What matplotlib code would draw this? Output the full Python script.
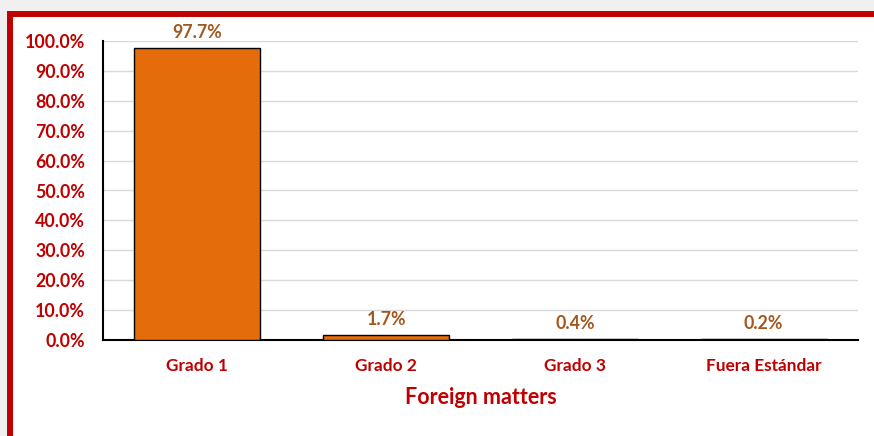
import matplotlib.pyplot as plt
from matplotlib.patches import Rectangle
from matplotlib.ticker import FuncFormatter

# Data.
categories = ['Grado 1', 'Grado 2', 'Grado 3', 'Fuera Estándar']
shares = [97.7, 1.7, 0.4, 0.2]  # percent
labels = ['97.7%', '1.7%', '0.4%', '0.2%']

red = '#c00000'
brown = '#a2581e'
orange = '#e46c0a'

plt.rcParams['font.family'] = ['Lato', 'DejaVu Sans']
plt.rcParams['font.weight'] = 'bold'

W, H = 874, 436
fig = plt.figure(figsize=(W / 100, H / 100), dpi=100, facecolor='#f0f0f0')

# White chart area with the red frame (clipped on right and bottom).
frame = Rectangle((10 / W, -0.2), 1.2, 1 - 14 / H + 0.2,
                  transform=fig.transFigure, facecolor='white',
                  edgecolor=red, linewidth=4.3, zorder=-5)
fig.patches.append(frame)

ax = fig.add_axes([103 / W, 1 - 340 / H, (858 - 103) / W, (340 - 41) / H])
ax.set_facecolor('none')

x = range(len(categories))
vals = [v / 100 for v in shares]
ax.bar(x, vals, width=0.667, color=orange, edgecolor='black',
       linewidth=1.0, zorder=3)

for xi, v, lab in zip(x, vals, labels):
    ax.annotate(lab, (xi, v), xytext=(0, 5), textcoords='offset points',
                ha='center', va='bottom', color=brown, fontsize=12.8,
                fontweight='bold')

ax.set_xlim(-0.5, len(categories) - 0.5)
ax.set_ylim(0, 1.0)
ax.set_yticks([i / 10 for i in range(11)])
ax.yaxis.set_major_formatter(FuncFormatter(lambda v, p: '%.1f%%' % (v * 100)))
ax.set_xticks(list(x))
ax.set_xticklabels(categories)

ax.tick_params(axis='y', length=0, pad=13, labelsize=12.8, labelcolor=red)
ax.tick_params(axis='x', length=0, pad=13, labelsize=12.4, labelcolor=red)

ax.grid(axis='y', color='#d9d9d9', linewidth=1.0, zorder=0)
ax.set_axisbelow(True)
for s in ['top', 'right']:
    ax.spines[s].set_visible(False)
ax.spines['left'].set_linewidth(1.5)
ax.spines['bottom'].set_linewidth(1.5)

ax.set_xlabel('Foreign matters', color=red, fontsize=15.5, fontweight='bold',
              labelpad=9)

fig.savefig('out.png', dpi=100, facecolor=fig.get_facecolor())
